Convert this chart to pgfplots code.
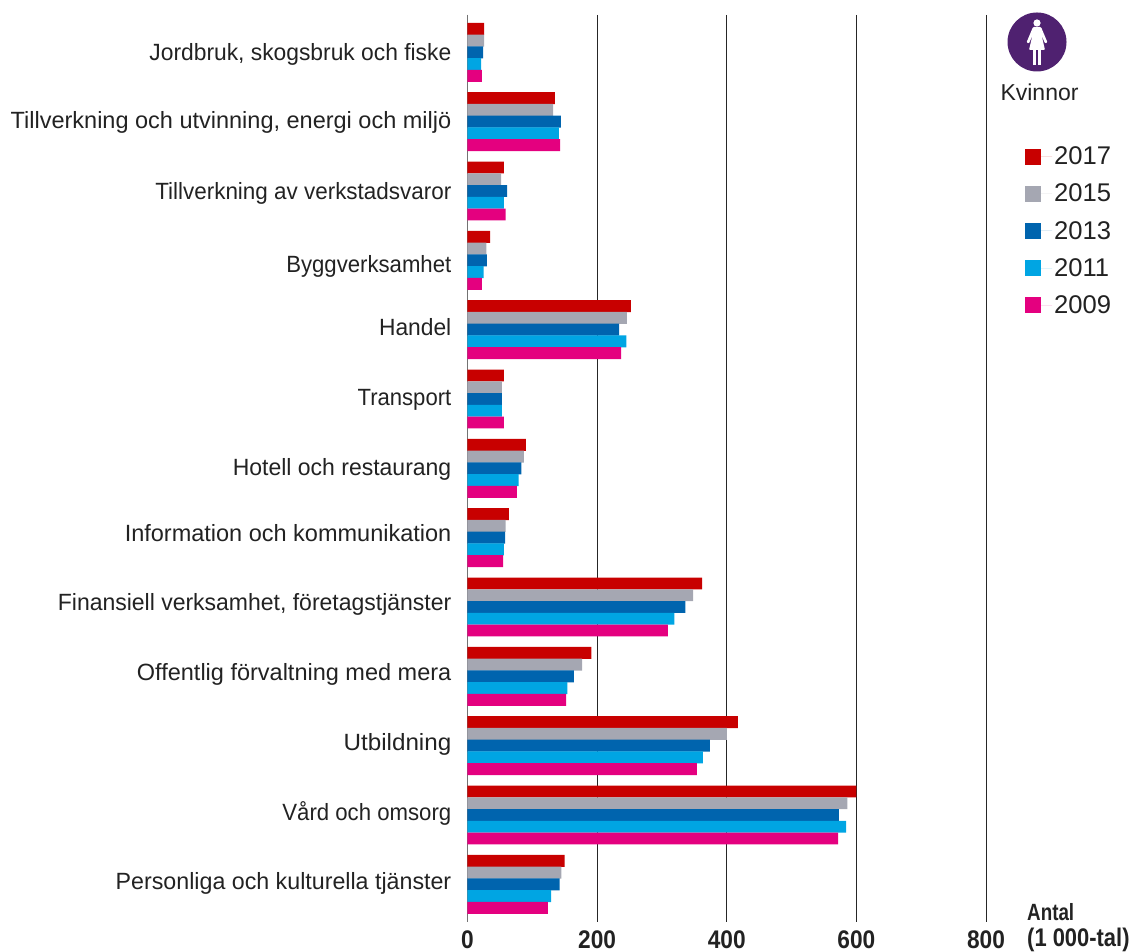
\documentclass[border=0pt]{standalone}
\usepackage{fontspec}
\setmainfont{Liberation Sans}
\newfontfamily\condbold[FakeStretch=0.89]{Liberation Sans}
\newfontfamily\condboldA[FakeStretch=0.8]{Liberation Sans}
\newfontfamily\condboldB[FakeStretch=0.86]{Liberation Sans}
\usepackage{pgfplots}
\usepackage{pgfplotstable}
\pgfplotsset{compat=1.18}
\definecolor{cA}{HTML}{C80000}
\definecolor{cB}{HTML}{A5A7B2}
\definecolor{cC}{HTML}{0064AE}
\definecolor{cD}{HTML}{00A5E3}
\definecolor{cE}{HTML}{E4007F}
\definecolor{purp}{HTML}{4F2170}
\definecolor{txt}{HTML}{222222}
\newcommand{\Lab}[3]{\raisebox{-#1pt}[0pt][0pt]{\scalebox{#2}[1]{#3}}}
\pgfplotstableread{
y a b c d e
0 25.5 25.5 24 21 22
1 135 132 144 141 143
2 56 52 61 56 59
3 35 29 30 25 22
4 252 246 234 245 237
5 56 53 53 53 56
6 90 87 83 79 76
7 64 59 58 56 55
8 362 348 336 319 309
9 191 177 164 154 152
10 417 400 374 363 354
11 600 586 573 584 572
12 150 145 142 129 124
}\data
\begin{document}
\begin{tikzpicture}[x=1pt,y=1pt]
\path[use as bounding box] (0,0) rectangle (1132,952);
\begin{axis}[
  at={(467.5pt,30pt)}, anchor=south west,
  scale only axis, width=518.5pt, height=907pt,
  xmin=0, xmax=800, ymin=-0.539, ymax=12.543,
  y dir=reverse,
  xbar, bar width=11.9pt,
  axis lines=left, axis line style={-},
  x axis line style={draw=none},
  y axis line style={draw=black!55, line width=1.5pt},
  major tick length=0pt,
  xtick={0,200,400,600,800},
  xmajorgrids, major grid style={draw=black!85, line width=0.9pt},
  ytick={0,...,12},
  yticklabels={{\Lab{8}{0.971}{Jordbruk, skogsbruk och fiske}},{\Lab{6.3}{1}{Tillverkning och utvinning, energi och miljö}},{\Lab{8}{0.955}{Tillverkning av verkstadsvaror}},{\Lab{12.3}{0.943}{Byggverksamhet}},{\Lab{6}{0.97}{Handel}},{\Lab{6}{0.94}{Transport}},{\Lab{7.2}{0.978}{Hotell och restaurang}},{\Lab{3.6}{1}{Information och kommunikation}},{\Lab{3.4}{0.978}{Finansiell verksamhet, företagstjänster}},{\Lab{4.2}{1}{Offentlig förvaltning med mera}},{\Lab{4.8}{1.03}{Utbildning}},{\Lab{5}{0.944}{Vård och omsorg}},{\Lab{5.4}{0.988}{Personliga och kulturella tjänster}}},
  yticklabel style={font=\fontsize{23.5}{24}\selectfont, text=txt, inner sep=0pt, xshift=-16pt, anchor=east},
  xticklabel style={font=\condbold\bfseries\fontsize{25.5}{27}\selectfont, text=txt, inner sep=0pt, anchor=center, yshift=-17.5pt},
  /pgf/number format/assume math mode=true,
  legend style={draw=none, fill=none, at={(1.0752,0.857)}, anchor=north west, font=\fontsize{25.6}{27}\selectfont, text=txt, row sep=13.8pt, inner sep=0pt},
  legend cell align=left,
  legend image code/.code={\fill[#1] (0pt,-8pt) rectangle (16pt,8pt); \path (0pt,0pt) -- (27pt,0pt);},
]
\addplot[fill=cA, draw=none, bar shift=23.5pt] table[x=a,y=y]{\data};
\addplot[fill=cB, draw=none, bar shift=11.75pt] table[x=b,y=y]{\data};
\addplot[fill=cC, draw=none, bar shift=0pt] table[x=c,y=y]{\data};
\addplot[fill=cD, draw=none, bar shift=-11.75pt] table[x=d,y=y]{\data};
\addplot[fill=cE, draw=none, bar shift=-23.5pt] table[x=e,y=y]{\data};
\legend{2017,2015,2013,2011,2009}
\end{axis}
\fill[purp] (1037,910) circle (29.5);
\fill[white] (1037,929) circle (3.6);
\fill[white,rounded corners=1pt] (1033,925) -- (1041,925) -- (1047.5,909.5) -- (1045,908.5) -- (1041.5,917) -- (1045,902) -- (1029,902) -- (1032.5,917) -- (1029,908.5) -- (1026.5,909.5) -- cycle;
\fill[white] (1033,902.5) rectangle (1036.4,887);
\fill[white] (1037.6,902.5) rectangle (1041,887);
\node[anchor=center, text=txt, inner sep=0pt, font=\fontsize{23}{24}\selectfont] at (1039.5,860) {Kvinnor};
\node[anchor=west, text=txt, inner sep=0pt, font=\condboldA\bfseries\fontsize{23.5}{24}\selectfont] at (1027,40) {Antal};
\node[anchor=west, text=txt, inner sep=0pt, font=\condboldB\bfseries\fontsize{25.5}{26}\selectfont] at (1027,12.5) {(1 000-tal)};
\end{tikzpicture}
\end{document}
